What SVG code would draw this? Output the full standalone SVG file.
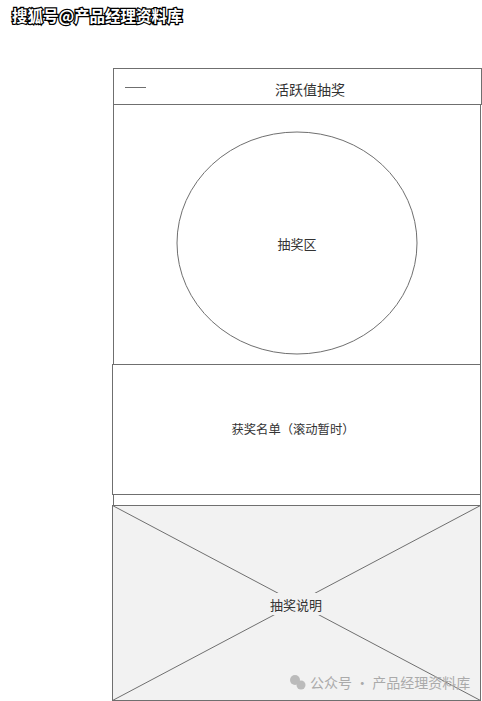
<svg xmlns="http://www.w3.org/2000/svg" width="482" height="701" viewBox="0 0 482 701">
<style>
.box{fill:#fff;stroke:#6f6f6f;stroke-width:1}
.ln{stroke:#6f6f6f;stroke-width:1;fill:none}
.t{font-family:"Noto Sans CJK SC","Noto Sans",sans-serif;fill:#333;text-anchor:middle;dominant-baseline:central}
</style>
<rect width="482" height="701" fill="#fff"/>
<g id="header">
<rect class="box" x="113.5" y="68.5" width="368" height="36"/>
<line class="ln" x1="125" y1="87.5" x2="146" y2="87.5"/>
<text class="t" x="310" y="89" font-size="14">活跃值抽奖</text>
</g>
<g id="lottery-area">
<rect class="box" x="113.5" y="104.5" width="367" height="260"/>
<ellipse class="ln" cx="297" cy="243" rx="120" ry="111"/>
<text class="t" x="297" y="243" font-size="13">抽奖区</text>
</g>
<g id="winner-list">
<rect class="box" x="112.5" y="364.5" width="368" height="130"/>
<text class="t" x="293" y="429" font-size="12.3">获奖名单（滚动暂时）</text>
</g>
<g id="gap">
<rect class="box" x="113.5" y="494.5" width="367" height="11"/>
</g>
<g id="rules">
<rect x="112.5" y="505.5" width="368" height="195" fill="#f2f2f2" stroke="#6f6f6f"/>
<g class="connectors">
<line class="ln" x1="112.5" y1="505.5" x2="480.5" y2="700.5"/>
<line class="ln" x1="480.5" y1="505.5" x2="112.5" y2="700.5"/>
</g>
<rect x="266" y="593" width="62" height="22" fill="#f2f2f2"/>
<text class="t" x="296" y="604" font-size="13">抽奖说明</text>
</g>
<g id="watermark-top">
<text x="12" y="22" font-family="Noto Sans CJK SC,sans-serif" font-size="15.5" font-weight="bold" fill="#fff" stroke="#000" stroke-width="2.5" paint-order="stroke">搜狐号@产品经理资料库</text>
</g>
<g id="watermark-bottom">
<circle cx="295" cy="680" r="5" fill="#bbb"/>
<circle cx="301" cy="685" r="4.5" fill="#bbb"/>
<text x="310" y="688" font-family="Noto Sans CJK SC,sans-serif" font-size="14" fill="#aaa">公众号 · 产品经理资料库</text>
</g>
</svg>
